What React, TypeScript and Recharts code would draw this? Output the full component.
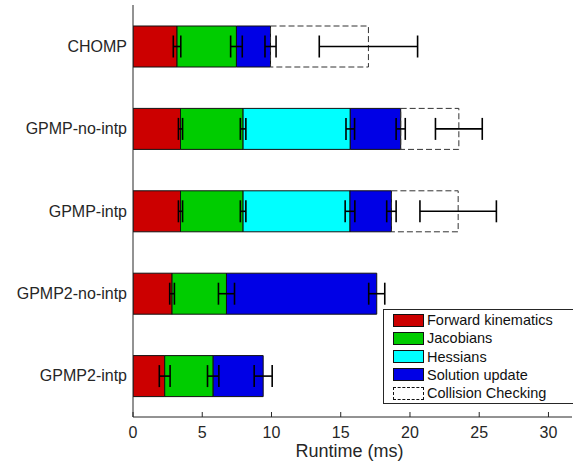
import React from 'react';
import { BarChart, Bar, XAxis, YAxis, ErrorBar, Label } from 'recharts';

const categories = ['CHOMP', 'GPMP-no-intp', 'GPMP-intp', 'GPMP2-no-intp', 'GPMP2-intp'];
const forwardKinematics = [3.18, 3.43, 3.43, 2.82, 2.29];
const jacobians = [4.29, 4.52, 4.52, 3.93, 3.5];
const hessians = [0, 7.74, 7.72, 0, 0];
const solutionUpdate = [2.46, 3.64, 2.99, 10.85, 3.61];
const collisionChecking = [7.07, 4.2, 4.82, 0, 0];

const fkErr = [0.27, 0.15, 0.15, 0.17, 0.39];
const jacErr = [0.42, 0.2, 0.2, 0.58, 0.41];
const hessErr = [0, 0.31, 0.35, 0, 0];
const solErr = [0.4, 0.33, 0.34, 0.58, 0.65];
const collErr = [3.55, 1.69, 2.76, 0, 0];

const xTicks = [0, 5, 10, 15, 20, 25, 30];

const legendItems = [
  { label: 'Forward kinematics', color: '#cc0000', dashed: false },
  { label: 'Jacobians', color: '#00cc00', dashed: false },
  { label: 'Hessians', color: '#00ffff', dashed: false },
  { label: 'Solution update', color: '#0000e6', dashed: false },
  { label: 'Collision Checking', color: 'none', dashed: true },
];

const FONT = '"Liberation Sans", Arial, Helvetica, sans-serif';
const AX = '#262626';

const XTick = (props: any) => {
  const { x, y, payload } = props;
  const axisY = y - 10;
  return (
    <g>
      <line x1={x} x2={x} y1={axisY} y2={axisY - 5} stroke={AX} strokeWidth={1} />
      <text x={x} y={y} dy="0.71em" textAnchor="middle" fontSize={16} fill={AX} fontFamily={FONT}>
        {payload.value}
      </text>
    </g>
  );
};

export default function App() {
  const data = categories.map((name, i) => ({
    name,
    fk: forwardKinematics[i],
    jac: jacobians[i],
    hess: hessians[i],
    sol: solutionUpdate[i],
    coll: collisionChecking[i],
    fkErr: fkErr[i],
    jacErr: jacErr[i],
    hessErr: hessErr[i],
    solErr: solErr[i],
    collErr: collErr[i],
  }));

  const errProps = { stroke: '#000', strokeWidth: 1.6, width: 11, direction: 'x' as const, isAnimationActive: false };

  return (
    <div style={{ position: 'relative', width: 573, height: 465, fontFamily: FONT }}>
      <style>{'body{margin:0;overflow:hidden;}'}</style>
      <BarChart
        width={573}
        height={465}
        data={data}
        layout="vertical"
        margin={{ top: 5, right: 1, bottom: 0, left: 0 }}
        barSize={41}
      >
        <XAxis
          type="number"
          domain={[0, 31.7]}
          ticks={xTicks}
          allowDataOverflow
          height={48}
          tickSize={0}
          tickMargin={10}
          tickLine={false}
          tick={<XTick />}
          axisLine={{ stroke: AX, strokeWidth: 1 }}
        >
          <Label
            value="Runtime (ms)"
            position="insideBottom"
            offset={8}
            dx={-3}
            style={{ fontSize: 18, fill: AX, fontFamily: FONT }}
          />
        </XAxis>
        <YAxis
          type="category"
          dataKey="name"
          width={133}
          tickLine={false}
          tickSize={0}
          tickMargin={6}
          axisLine={{ stroke: AX, strokeWidth: 1 }}
          tick={{ fontSize: 16, fill: AX, fontFamily: FONT }}
        />
        <YAxis yAxisId="e" type="category" dataKey="name" hide />

        <Bar dataKey="fk" stackId="a" fill="#cc0000" stroke="#111" strokeWidth={1} isAnimationActive={false} />
        <Bar dataKey="jac" stackId="a" fill="#00cc00" stroke="#111" strokeWidth={1} isAnimationActive={false} />
        <Bar dataKey="hess" stackId="a" fill="#00ffff" stroke="#111" strokeWidth={1} isAnimationActive={false} />
        <Bar dataKey="sol" stackId="a" fill="#0000e6" stroke="#111" strokeWidth={1} isAnimationActive={false} />
        <Bar
          dataKey="coll"
          stackId="a"
          fill="none"
          stroke="#333"
          strokeWidth={1}
          strokeDasharray="6 3"
          isAnimationActive={false}
        />

        <Bar dataKey="fk" yAxisId="e" stackId="e" fill="none" stroke="none" isAnimationActive={false}>
          <ErrorBar dataKey="fkErr" {...errProps} />
        </Bar>
        <Bar dataKey="jac" yAxisId="e" stackId="e" fill="none" stroke="none" isAnimationActive={false}>
          <ErrorBar dataKey="jacErr" {...errProps} />
        </Bar>
        <Bar dataKey="hess" yAxisId="e" stackId="e" fill="none" stroke="none" isAnimationActive={false}>
          <ErrorBar dataKey="hessErr" {...errProps} />
        </Bar>
        <Bar dataKey="sol" yAxisId="e" stackId="e" fill="none" stroke="none" isAnimationActive={false}>
          <ErrorBar dataKey="solErr" {...errProps} />
        </Bar>
        <Bar dataKey="coll" yAxisId="e" stackId="e" fill="none" stroke="none" isAnimationActive={false}>
          <ErrorBar dataKey="collErr" {...errProps} />
        </Bar>
      </BarChart>

      <div
        style={{
          position: 'absolute',
          left: 383,
          top: 309,
          width: 192,
          height: 95,
          boxSizing: 'border-box',
          border: `1px solid ${AX}`,
          background: '#fff',
        }}
      >
        {legendItems.map((it, i) => (
          <div
            key={it.label}
            style={{
              position: 'absolute',
              left: 9,
              top: 3 + i * 18.3,
              height: 14,
              display: 'flex',
              alignItems: 'center',
              whiteSpace: 'nowrap',
            }}
          >
            <div
              style={{
                width: 31,
                height: 13,
                boxSizing: 'border-box',
                background: it.dashed ? '#fff' : it.color,
                border: it.dashed ? '1px dashed #111' : '1px solid #111',
              }}
            />
            <span style={{ marginLeft: 3, fontSize: 14.5, color: '#111', fontFamily: FONT, lineHeight: '14px' }}>
              {it.label}
            </span>
          </div>
        ))}
      </div>
    </div>
  );
}
